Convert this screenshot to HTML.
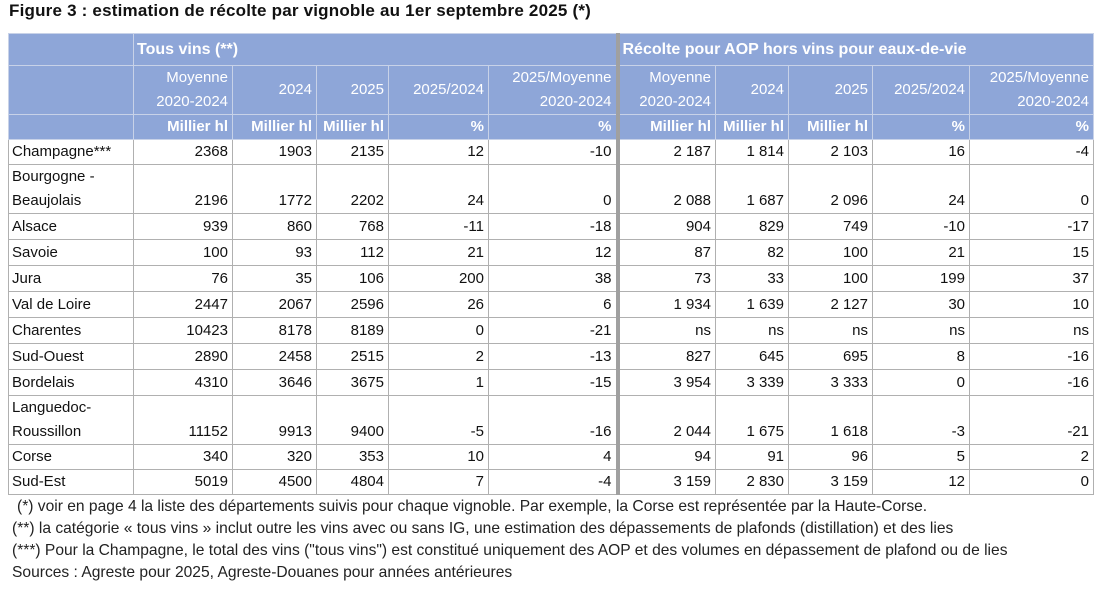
<!DOCTYPE html>
<html><head><meta charset="utf-8"><style>
body{margin:0;width:1100px;height:596px;background:#fff;position:relative;overflow:hidden;font-family:"Liberation Sans",sans-serif;color:#111}
.t{position:absolute;left:9px;top:1px;font-size:17px;font-weight:bold;letter-spacing:0.2px}
table{position:absolute;left:8px;top:33px;border-collapse:collapse;table-layout:fixed;font-size:15px}
td{border:1px solid #b0b0b0;padding:0 4px 0 3px;text-align:right;white-space:nowrap;overflow:hidden;line-height:24px}
td:first-child{text-align:left}
.h td{background:#8ea6d8;color:#fff;border-color:#c8d2e8}
.b{font-weight:bold}
.th{border-right:4px solid #a0a0a0 !important}
.f{position:absolute;left:12px;font-size:15.6px;letter-spacing:0px;color:#222}
</style></head><body>
<div class="t">Figure 3 : estimation de récolte par vignoble au 1er septembre 2025 (*)</div>
<table>
<colgroup><col style="width:125px"><col style="width:99px"><col style="width:84px"><col style="width:72px"><col style="width:100px"><col style="width:129px"><col style="width:98px"><col style="width:73px"><col style="width:84px"><col style="width:97px"><col style="width:124px"></colgroup>
<tr class="h" style="height:32px"><td></td><td colspan="5" class="b th" style="text-align:left;font-size:16px">Tous vins (**)</td><td colspan="5" class="b" style="text-align:left;font-size:16px">Récolte pour AOP hors vins pour eaux-de-vie</td></tr>
<tr class="h" style="height:49px"><td></td><td>Moyenne<br>2020-2024</td><td>2024</td><td>2025</td><td>2025/2024</td><td class="th">2025/Moyenne<br>2020-2024</td><td>Moyenne<br>2020-2024</td><td>2024</td><td>2025</td><td>2025/2024</td><td>2025/Moyenne<br>2020-2024</td></tr>
<tr class="h b" style="height:23px"><td></td><td>Millier hl</td><td>Millier hl</td><td>Millier hl</td><td>%</td><td class="th">%</td><td>Millier hl</td><td>Millier hl</td><td>Millier hl</td><td>%</td><td>%</td></tr>
<tr style="height:24px"><td>Champagne***</td><td>2368</td><td>1903</td><td>2135</td><td>12</td><td class="th">-10</td><td>2 187</td><td>1 814</td><td>2 103</td><td>16</td><td>-4</td></tr>
<tr style="height:47px;vertical-align:bottom"><td>Bourgogne -<br>Beaujolais</td><td>2196</td><td>1772</td><td>2202</td><td>24</td><td class="th">0</td><td>2 088</td><td>1 687</td><td>2 096</td><td>24</td><td>0</td></tr>
<tr style="height:26px"><td>Alsace</td><td>939</td><td>860</td><td>768</td><td>-11</td><td class="th">-18</td><td>904</td><td>829</td><td>749</td><td>-10</td><td>-17</td></tr>
<tr style="height:26px"><td>Savoie</td><td>100</td><td>93</td><td>112</td><td>21</td><td class="th">12</td><td>87</td><td>82</td><td>100</td><td>21</td><td>15</td></tr>
<tr style="height:26px"><td>Jura</td><td>76</td><td>35</td><td>106</td><td>200</td><td class="th">38</td><td>73</td><td>33</td><td>100</td><td>199</td><td>37</td></tr>
<tr style="height:26px"><td>Val de Loire</td><td>2447</td><td>2067</td><td>2596</td><td>26</td><td class="th">6</td><td>1 934</td><td>1 639</td><td>2 127</td><td>30</td><td>10</td></tr>
<tr style="height:26px"><td>Charentes</td><td>10423</td><td>8178</td><td>8189</td><td>0</td><td class="th">-21</td><td>ns</td><td>ns</td><td>ns</td><td>ns</td><td>ns</td></tr>
<tr style="height:26px"><td>Sud-Ouest</td><td>2890</td><td>2458</td><td>2515</td><td>2</td><td class="th">-13</td><td>827</td><td>645</td><td>695</td><td>8</td><td>-16</td></tr>
<tr style="height:26px"><td>Bordelais</td><td>4310</td><td>3646</td><td>3675</td><td>1</td><td class="th">-15</td><td>3 954</td><td>3 339</td><td>3 333</td><td>0</td><td>-16</td></tr>
<tr style="height:48px;vertical-align:bottom"><td>Languedoc-<br>Roussillon</td><td>11152</td><td>9913</td><td>9400</td><td>-5</td><td class="th">-16</td><td>2 044</td><td>1 675</td><td>1 618</td><td>-3</td><td>-21</td></tr>
<tr style="height:24px"><td>Corse</td><td>340</td><td>320</td><td>353</td><td>10</td><td class="th">4</td><td>94</td><td>91</td><td>96</td><td>5</td><td>2</td></tr>
<tr style="height:25px"><td>Sud-Est</td><td>5019</td><td>4500</td><td>4804</td><td>7</td><td class="th">-4</td><td>3 159</td><td>2 830</td><td>3 159</td><td>12</td><td>0</td></tr>
</table>
<div class="f" style="top:498px;left:17px">(*) voir en page 4 la liste des départements suivis pour chaque vignoble. Par exemple, la Corse est représentée par la Haute-Corse.</div>
<div class="f" style="top:520px">(**) la catégorie « tous vins » inclut outre les vins avec ou sans IG, une estimation des dépassements de plafonds (distillation) et des lies</div>
<div class="f" style="top:542px">(***) Pour la Champagne, le total des vins ("tous vins") est constitué uniquement des AOP et des volumes en dépassement de plafond ou de lies</div>
<div class="f" style="top:564px">Sources : Agreste pour 2025, Agreste-Douanes pour années antérieures</div>
</body></html>
